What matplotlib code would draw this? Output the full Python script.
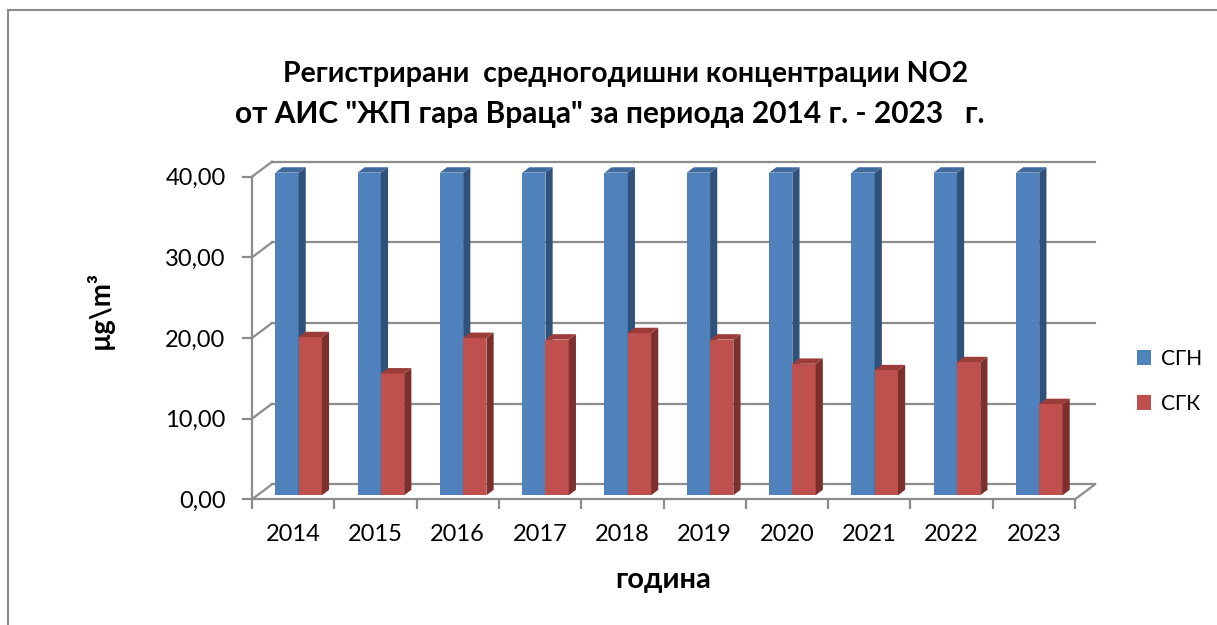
"""Annual NO2 concentrations, AIS 'ZhP gara Vratsa' - Excel-style 3D column chart."""

import matplotlib
matplotlib.use("Agg")
import matplotlib.pyplot as plt
from matplotlib.patches import Polygon, Rectangle, Patch

plt.rcParams["font.family"] = ["Lato", "DejaVu Sans"]

years = ["2014", "2015", "2016", "2017", "2018", "2019", "2020", "2021", "2022", "2023"]
sgn = [40.0, 40.0, 40.0, 40.0, 40.0, 40.0, 40.0, 40.0, 40.0, 40.0]
sgk = [19.6, 15.1, 19.5, 19.3, 20.1, 19.3, 16.3, 15.5, 16.5, 11.3]
y_ticks = [0, 10, 20, 30, 40]
y_tick_labels = ["0,00", "10,00", "20,00", "30,00", "40,00"]
series_names = ["СГН", "СГК"]

title_1 = "Регистрирани  средногодишни концентрации NO2"
title_2 = "от АИС \"ЖП гара Враца\" за периода 2014 г. - 2023   г."

# face / side / top colours per series
COLORS = {
    "СГН": ("#4F81BD", "#30527A", "#3F6A9E"),
    "СГК": ("#C0504D", "#7D2F2E", "#9C3C39"),
}
GRID = "#8C8C8C"

W, H = 1217, 625
fig = plt.figure(figsize=(W / 100, H / 100), dpi=100)

# front plane of the plot area in pixels
x0_px, x1_px, y0_px, y1_px = 252, 1075, 499.3, 176.7
ax = fig.add_axes([x0_px / W, 1 - y0_px / H, (x1_px - x0_px) / W, (y0_px - y1_px) / H])
ax.set_xlim(-0.5, len(years) - 0.5)
ax.set_ylim(0, 40)

px_per_cat = (x1_px - x0_px) / len(years)
px_per_val = (y0_px - y1_px) / 40

# depth of the 3D box (pixels -> data units)
floor_dx = 20 / px_per_cat
floor_dy = 15 / px_per_val
bar_front = 0.27   # fraction of the box depth where bar fronts sit
bar_depth = 0.36   # bar depth as fraction of box depth
bar_w = 23.3 / px_per_cat

# back wall, side wall and floor lines
xl, xr = -0.5, len(years) - 0.5
for v in y_ticks:
    ax.plot([xl + floor_dx, xr + floor_dx], [v + floor_dy, v + floor_dy],
            color=GRID, lw=1.6, clip_on=False, zorder=1)
    ax.plot([xl, xl + floor_dx], [v, v + floor_dy],
            color=GRID, lw=1.6, clip_on=False, zorder=1)
ax.plot([xr, xr + floor_dx], [0, floor_dy], color=GRID, lw=1.6, clip_on=False, zorder=1)


def draw_bar(x_left, value, colors):
    face, side, top = colors
    ox, oy = bar_front * floor_dx, bar_front * floor_dy
    dx, dy = bar_depth * floor_dx, bar_depth * floor_dy
    xa, xb = x_left + ox, x_left + bar_w + ox
    ya, yb = oy, value + oy
    ax.add_patch(Rectangle((xa, ya), bar_w, value, facecolor=face,
                           edgecolor="none", clip_on=False, zorder=3))
    ax.add_patch(Polygon([(xb, ya), (xb + dx, ya + dy), (xb + dx, yb + dy), (xb, yb)],
                         closed=True, facecolor=side, edgecolor="none",
                         clip_on=False, zorder=3))
    ax.add_patch(Polygon([(xa, yb), (xb, yb), (xb + dx, yb + dy), (xa + dx, yb + dy)],
                         closed=True, facecolor=top, edgecolor="none",
                         clip_on=False, zorder=3))


for i in range(len(years)):
    draw_bar(i - bar_w, sgn[i], COLORS["СГН"])
    draw_bar(i, sgk[i], COLORS["СГК"])

# axes
for s in ["top", "right"]:
    ax.spines[s].set_visible(False)
for s in ["left", "bottom"]:
    ax.spines[s].set_color(GRID)
    ax.spines[s].set_linewidth(1.6)
    ax.spines[s].set_zorder(2)

ax.set_yticks(y_ticks)
ax.set_yticklabels(y_tick_labels, fontsize=17)
ax.tick_params(axis="y", length=7, width=1.6, color=GRID, pad=12)

ax.set_xticks(range(len(years)))
ax.set_xticklabels(years, fontsize=17)
ax.set_xticks([i - 0.5 for i in range(len(years) + 1)], minor=True)
ax.tick_params(axis="x", which="major", length=0, pad=18)
ax.tick_params(axis="x", which="minor", length=7, width=1.6, color=GRID)

ax.set_xlabel("година", fontsize=21, fontweight="bold")
ax.xaxis.set_label_coords(0.5, -(580 - y0_px) / (y0_px - y1_px))
ax.set_ylabel("µg\\m³", fontsize=20, fontweight="bold")
ax.yaxis.set_label_coords(-(x0_px - 100) / (x1_px - x0_px), (y0_px - 310) / (y0_px - y1_px))
ax.xaxis.label.set_va("center")
ax.yaxis.label.set_va("center")

fig.text(626 / W, 1 - 74 / H, title_1, ha="center", va="center",
         fontsize=20.5, fontweight="bold")
fig.text(610 / W, 1 - 114 / H, title_2, ha="center", va="center",
         fontsize=21.5, fontweight="bold")

handles = [Patch(facecolor=COLORS[n][0]) for n in series_names]
fig.legend(handles, series_names, loc="center left",
           bbox_to_anchor=(1118 / W, 1 - 381 / H), frameon=False,
           fontsize=15, handlelength=0.7, handleheight=0.7,
           handletextpad=0.45, labelspacing=1.2)

# chart area border (only top and left visible in the crop)
fig.add_artist(Rectangle((8 / W, -0.1), 1.2, (H - 10) / H + 0.1,
                         transform=fig.transFigure, fill=False,
                         edgecolor="#8A8A8A", lw=1.5))

fig.savefig("out.png", dpi=100)
